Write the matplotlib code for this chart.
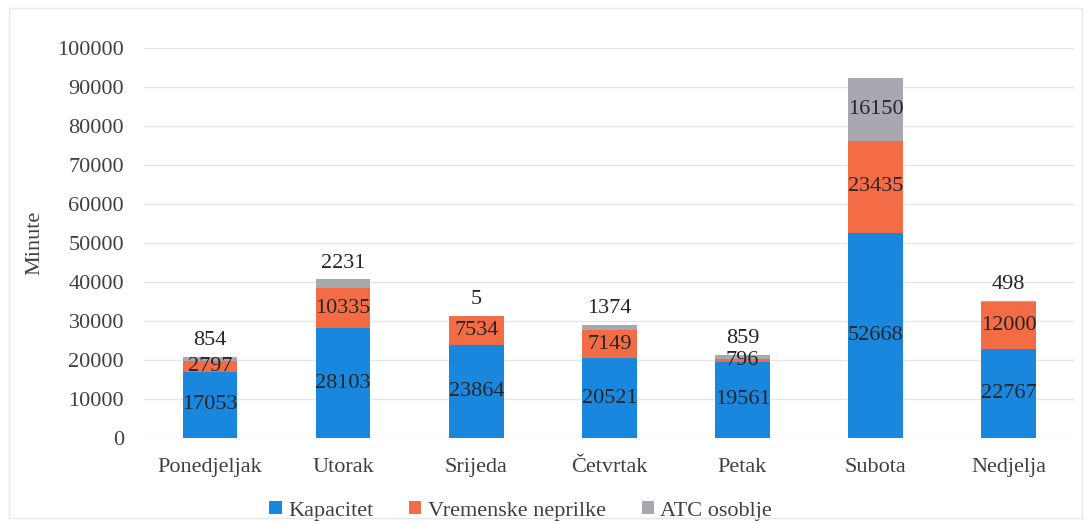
import numpy as np
import matplotlib.pyplot as plt
from matplotlib.patches import Rectangle

# Data
days = ['Ponedjeljak', 'Utorak', 'Srijeda', 'Četvrtak', 'Petak', 'Subota', 'Nedjelja']
kapacitet = [17053, 28103, 23864, 20521, 19561, 52668, 22767]
vremenske = [2797, 10335, 7534, 7149, 796, 23435, 12000]
atc = [854, 2231, 5, 1374, 859, 16150, 498]

plt.rcParams['font.family'] = ['Liberation Serif', 'DejaVu Serif']

fig = plt.figure(figsize=(10.9, 5.24), dpi=100)
ax = fig.add_axes([0.1317, 0.164, 0.8547, 0.7443])

# light border around the whole chart
fig.patches.append(Rectangle((0.008, 0.012), 0.985, 0.972, transform=fig.transFigure,
                             fill=False, edgecolor='#e8e8e8', linewidth=1))

x = np.arange(len(days))
w = 0.41
c_blue, c_orange, c_grey = '#1a87de', '#f46c45', '#a8a8b0'

b1 = ax.bar(x, kapacitet, w, color=c_blue, label='Kapacitet', zorder=2)
b2 = ax.bar(x, vremenske, w, bottom=kapacitet, color=c_orange, label='Vremenske neprilke', zorder=2)
bottom3 = np.array(kapacitet) + np.array(vremenske)
b3 = ax.bar(x, atc, w, bottom=bottom3, color=c_grey, label='ATC osoblje', zorder=2)

fs = 16
txt = '#262626'
ax.bar_label(b1, labels=[str(v) for v in kapacitet], label_type='center', fontsize=fs, color=txt)
ax.bar_label(b2, labels=[str(v) for v in vremenske], label_type='center', fontsize=fs, color=txt)
# small ATC values sit above the bar, the big one inside
for i, v in enumerate(atc):
    if v > 5000:
        ax.text(x[i], bottom3[i] + v / 2, str(v), ha='center', va='center', fontsize=fs, color=txt)
    else:
        ax.annotate(str(v), (x[i], bottom3[i] + v), xytext=(0, 5), textcoords='offset points',
                    ha='center', va='bottom', fontsize=fs, color=txt)

ax.set_ylim(0, 100000)
ax.set_yticks(np.arange(0, 100001, 10000))
ax.set_xlim(-0.5, len(days) - 0.5)
ax.set_xticks(x)
ax.set_xticklabels(days)
ax.tick_params(axis='both', length=0, labelsize=fs, colors='#404040')
ax.tick_params(axis='x', pad=14)
ax.tick_params(axis='y', pad=14)
ax.yaxis.grid(True, color='#e6e6e6', linewidth=1, zorder=0)
for s in ax.spines.values():
    s.set_visible(False)
ax.set_ylabel('Minute', fontsize=fs, color='#404040', labelpad=9)

ax.legend(loc='upper center', bbox_to_anchor=(0.405, -0.11), ncol=3, frameon=False,
          fontsize=fs, handlelength=0.55, handleheight=0.55, handletextpad=0.3,
          columnspacing=1.6, labelcolor='#404040')

fig.savefig('out.png', dpi=100)
